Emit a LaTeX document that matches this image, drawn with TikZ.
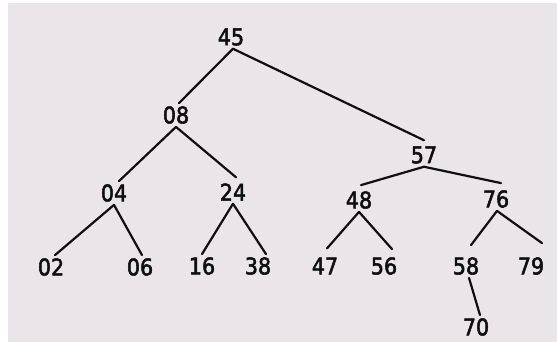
\documentclass[tikz,border=0pt]{standalone}
\usepackage{fontspec}
\setmainfont{DejaVu Sans Condensed}[FakeBold=2.2]
\definecolor{bg}{RGB}{233,229,233}
\definecolor{ink}{RGB}{15,15,15}
\begin{document}
\begin{tikzpicture}[x=1pt,y=-1pt,
  num/.style={font=\fontsize{23}{23}\selectfont, text=ink, inner xsep=1pt, inner ysep=3pt},
  edge/.style={draw=ink, line width=2.2pt, line cap=round}]
\fill[white] (0,0) rectangle (557,342);
\fill[bg] (8,3) rectangle (557,342);
\useasboundingbox (0,0) rectangle (557,342);
\node[num] (n45) at (231,37) {45};
\node[num] (n08) at (176,115) {08};
\node[num] (n57) at (424,155) {57};
\node[num] (n04) at (114,193) {04};
\node[num] (n24) at (233,192) {24};
\node[num] (n48) at (359,200) {48};
\node[num] (n76) at (496,199) {76};
\node[num] (n02) at (51,267) {02};
\node[num] (n06) at (140,267) {06};
\node[num] (n16) at (202,266) {16};
\node[num] (n38) at (258,266) {38};
\node[num] (n47) at (325,266) {47};
\node[num] (n56) at (384,266) {56};
\node[num] (n58) at (466,266) {58};
\node[num] (n79) at (531,266) {79};
\node[num] (n70) at (476,327) {70};
\draw[edge] ([xshift=2pt]n45.south) -- ([xshift=3pt]n08.north);
\draw[edge] ([xshift=2pt]n45.south) -- ([yshift=3pt]n57.north);
\draw[edge] (n08.south) -- ([xshift=5pt]n04.north);
\draw[edge] (n08.south) -- ([xshift=3pt,yshift=3pt]n24.north);
\draw[edge] (n57.south) -- ([xshift=2pt,yshift=3pt]n48.north);
\draw[edge] (n57.south) -- ([xshift=5pt,yshift=4pt]n76.north);
\draw[edge] (n04.south) -- ([xshift=4pt]n02.north);
\draw[edge] (n04.south) -- ([xshift=2pt]n06.north);
\draw[edge] (n24.south) -- (n16.north);
\draw[edge] (n24.south) -- ([xshift=8pt]n38.north);
\draw[edge] (n48.south) -- ([xshift=2pt,yshift=6pt]n47.north);
\draw[edge] (n48.south) -- ([xshift=8pt,yshift=5pt]n56.north);
\draw[edge] ([xshift=1pt]n76.south) -- ([xshift=5pt,yshift=9pt]n58.north);
\draw[edge] ([xshift=1pt]n76.south) -- ([xshift=11pt,yshift=11pt]n79.north);
\draw[edge] ([xshift=3pt]n58.south) -- ([xshift=4pt]n70.north);
\end{tikzpicture}
\end{document}
